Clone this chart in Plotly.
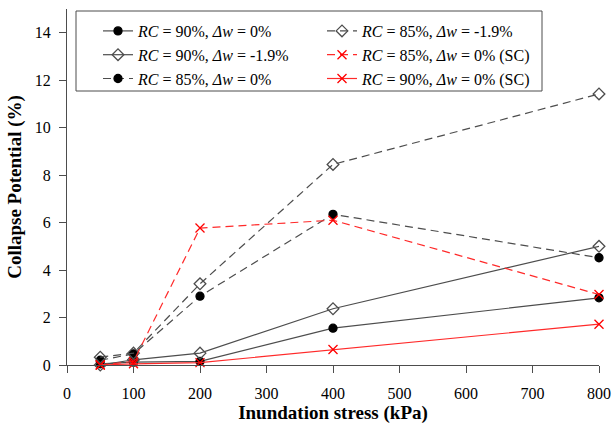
import plotly.graph_objects as go

stress = [50, 100, 200, 400, 800]
rc90_dw0 = [0.05, 0.12, 0.15, 1.55, 2.83]
rc90_dw19 = [0.0, 0.22, 0.50, 2.37, 5.00]
rc85_dw0 = [0.20, 0.47, 2.90, 6.35, 4.52]
rc85_dw19 = [0.33, 0.50, 3.42, 8.45, 11.42]
rc85_dw0_sc = [0.0, 0.15, 5.77, 6.10, 2.97]
rc90_dw0_sc = [0.0, 0.05, 0.10, 0.65, 1.72]

names = [
    "<i>RC</i> = 90%, <i>Δw</i> = 0%",
    "<i>RC</i> = 90%, <i>Δw</i> = -1.9%",
    "<i>RC</i> = 85%, <i>Δw</i> = 0%",
    "<i>RC</i> = 85%, <i>Δw</i> = -1.9%",
    "<i>RC</i> = 85%, <i>Δw</i> = 0% (SC)",
    "<i>RC</i> = 90%, <i>Δw</i> = 0% (SC)",
]

GRAY = "#4d4d4d"
RED = "#ff2a2a"
DASH = "8px,5px"
FONT = "Liberation Serif"

fig = go.Figure()

def add(y, name, dash, lcolor, symbol, size, mcolor, mline, legend):
    fig.add_trace(go.Scatter(
        x=stress, y=y, name=name, mode="lines+markers",
        line=dict(color=lcolor, width=1.2, dash=dash),
        marker=dict(symbol=symbol, size=size,
                    color=mcolor, line=dict(color=mline, width=1.3)),
        cliponaxis=False, legend=legend,
    ))

add(rc90_dw0, names[0], "solid", GRAY, "circle", 8, "black", "black", "legend")
add(rc90_dw19, names[1], "solid", GRAY, "diamond-open", 9, GRAY, GRAY, "legend")
add(rc85_dw0, names[2], DASH, GRAY, "circle", 8, "black", "black", "legend")
add(rc85_dw19, names[3], DASH, GRAY, "diamond-open", 9, GRAY, GRAY, "legend2")
add(rc85_dw0_sc, names[4], DASH, RED, "x-thin-open", 9, "red", "red", "legend2")
add(rc90_dw0_sc, names[5], "solid", RED, "x-thin-open", 9, "red", "red", "legend2")

# legend frame
fig.add_shape(type="rect", xref="paper", yref="paper",
              x0=(76 - 67) / 532, x1=(542 - 67) / 532,
              y0=(365 - 91) / 356, y1=(365 - 11) / 356,
              line=dict(color=GRAY, width=1), fillcolor="white", layer="below")

legfont = dict(family=FONT, size=16, color="black")
fig.update_layout(
    width=614, height=425,
    margin=dict(l=67, r=15, t=9, b=60),
    paper_bgcolor="white", plot_bgcolor="white",
    font=dict(family=FONT, size=16, color="black"),
    legend=dict(x=(98 - 67) / 532, y=(365 - 14) / 356, xanchor="left", yanchor="top",
                bgcolor="rgba(0,0,0,0)", font=legfont, tracegroupgap=0),
    legend2=dict(x=(322 - 67) / 532, y=(365 - 14) / 356, xanchor="left", yanchor="top",
                 bgcolor="rgba(0,0,0,0)", font=legfont, tracegroupgap=0),
    xaxis=dict(range=[0, 800], tickmode="array", tickvals=list(range(0, 801, 100)),
               showgrid=False, zeroline=False, showline=True, linecolor=GRAY,
               linewidth=1, ticks="outside", ticklen=7, tickcolor=GRAY,
               ticklabelstandoff=7, automargin=False,
               tickfont=dict(family=FONT, size=16),
               title=dict(text="<b>Inundation stress (kPa)</b>", standoff=3,
                          font=dict(family=FONT, size=19))),
    yaxis=dict(range=[0, 15], tickmode="array", tickvals=list(range(0, 15, 2)),
               showgrid=False, zeroline=False, showline=True, linecolor=GRAY,
               linewidth=1, ticks="outside", ticklen=7, tickcolor=GRAY,
               ticklabelstandoff=5, automargin=False,
               tickfont=dict(family=FONT, size=16),
               title=dict(text="<b>Collapse Potential (%)</b>", standoff=8,
                          font=dict(family=FONT, size=19))),
)

fig.write_html("out.html")
